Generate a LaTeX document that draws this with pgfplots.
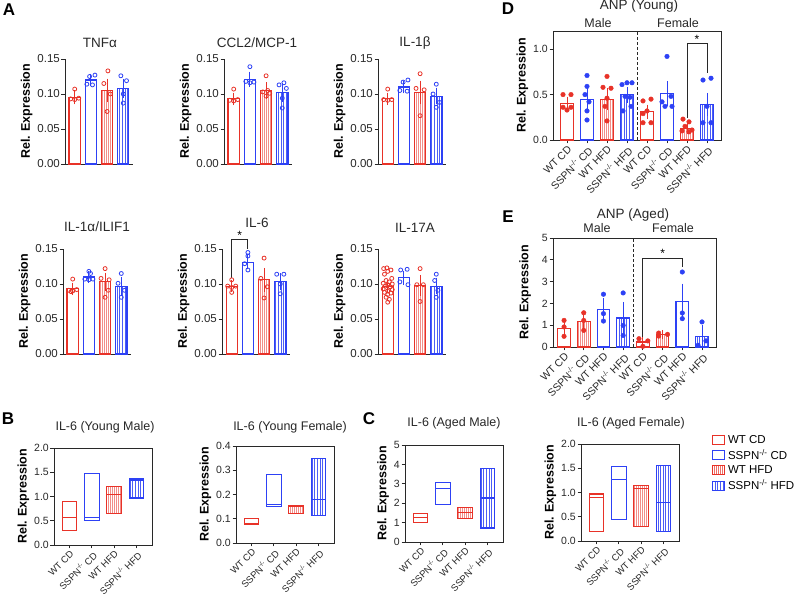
\documentclass[border=0pt]{standalone}
\usepackage{pgfplots}
\pgfplotsset{compat=1.18}
\usepgfplotslibrary{statistics}
\usetikzlibrary{patterns.meta}
\usepackage{fontspec}
\setmainfont{Liberation Sans}
\definecolor{cred}{RGB}{232,50,40}
\definecolor{cblue}{RGB}{45,65,245}
\definecolor{axc}{RGB}{40,40,40}
\newcommand{\ko}{SSPN\textsuperscript{-/-}}
\pgfplotsset{
 base/.style={scale only axis, enlargelimits=false, clip=false,
   tick align=outside, tick pos=left, major tick length=3.5pt,
   axis line style={-, line width=0.9pt, draw=axc},
   every tick/.style={line width=0.9pt, axc},
   tick label style={font=\fontsize{10.5}{12}\selectfont, text=axc},
   yticklabel style={inner sep=1.5pt},
   /pgf/number format/assume math mode=true,
   ylabel={Rel. Expression},
   ylabel style={font=\bfseries\fontsize{12.5}{14}\selectfont, text=black}},
 Astyle/.style={base, width=68pt, height=105pt, axis x line*=bottom, axis y line*=left,
   xmin=-0.6, xmax=3.6, ymin=0, ymax=0.15, ytick={0,0.05,0.1,0.15}, xtick=\empty, bar width=0.7,
   yticklabel style={font=\fontsize{11.5}{12}\selectfont, /pgf/number format/.cd, fixed, fixed zerofill, precision=2}},
 Bstyle/.style={base, width=98pt, height=97pt, xmin=-0.7, xmax=3.7, ymin=0, xtick={0,1,2,3},
   boxplot/draw direction=y,
   xticklabels={WT CD, \ko{} CD, WT HFD, \ko{} HFD},
   xticklabel style={rotate=45, anchor=north east, inner sep=1pt, font=\fontsize{9.5}{10}\selectfont}},
 Dstyle/.style={base, height=109pt, ymin=0, 
   xtick={0,1,2,3,4,5,6,7}, xticklabels={WT CD, \ko{} CD, WT HFD, \ko{} HFD, WT CD, \ko{} CD, WT HFD, \ko{} HFD},
   xticklabel style={rotate=45, anchor=north east, inner sep=1pt, font=\fontsize{10.5}{11}\selectfont}},
 errb/.style={/pgfplots/error bars/y dir=both, /pgfplots/error bars/y explicit,
   /pgfplots/error bars/error bar style={line width=1pt, #1},
   /pgfplots/error bars/error mark options={#1, mark size=3.5pt, line width=1pt}},
 wtcd/.style={ybar, bar shift=0pt, draw=cred, line width=1.1pt, fill=white, errb=cred},
 kocd/.style={ybar, bar shift=0pt, draw=cblue, line width=1.1pt, fill=white, errb=cblue},
 wthfd/.style={ybar, bar shift=0pt, draw=cred, line width=1.1pt, pattern={Lines[angle=90,distance=2pt,line width=0.5pt]}, pattern color=cred!55, errb=cred},
 kohfd/.style={ybar, bar shift=0pt, draw=cblue, line width=1.1pt, pattern={Lines[angle=90,distance=2.6pt,line width=0.6pt]}, pattern color=cblue!85, errb=cblue},
 ptr/.style={only marks, mark=o, mark size=2pt, cred, mark options={line width=0.8pt}},
 ptb/.style={only marks, mark=o, mark size=2pt, cblue, mark options={line width=0.8pt}},
 fpr/.style={only marks, mark=*, mark size=2.3pt, cred},
 fpb/.style={only marks, mark=*, mark size=2.3pt, cblue},
 bwtcd/.style={draw=cred, line width=1.1pt, fill=white},
 bkocd/.style={draw=cblue, line width=1.1pt, fill=white},
 bwthfd/.style={draw=cred, line width=1.1pt, pattern={Lines[angle=90,distance=2pt,line width=0.5pt]}, pattern color=cred!55},
 bkohfd/.style={draw=cblue, line width=1.1pt, pattern={Lines[angle=90,distance=2.6pt,line width=0.6pt]}, pattern color=cblue!85},
}
\begin{document}
\begin{tikzpicture}
\path[use as bounding box] (0pt,0pt) rectangle (800pt,596pt);
%% ---------------- Panel A ----------------
\begin{axis}[Astyle, at={(65pt,432pt)}]
\addplot[wtcd] coordinates {(0,0.095) +- (0,0.005)};
\addplot[kocd] coordinates {(1,0.120) +- (0,0.004)};
\addplot[wthfd] coordinates {(2,0.105) +- (0,0.012)};
\addplot[kohfd] coordinates {(3,0.108) +- (0,0.009)};
\addplot[ptr] coordinates {(0,0.107) (-0.25,0.093) (0,0.092) (0.25,0.094)};
\addplot[ptb] coordinates {(0.75,0.114) (0.92,0.125) (1.1,0.113) (1.25,0.127)};
\addplot[ptr] coordinates {(2.05,0.133) (1.8,0.115) (2.2,0.100) (2.0,0.075)};
\addplot[ptb] coordinates {(2.85,0.126) (3.2,0.119) (3.0,0.100) (3.0,0.087)};
\end{axis}
\begin{axis}[Astyle, at={(224pt,432pt)}]
\addplot[wtcd] coordinates {(0,0.093) +- (0,0.004)};
\addplot[kocd] coordinates {(1,0.121) +- (0,0.006)};
\addplot[wthfd] coordinates {(2,0.105) +- (0,0.007)};
\addplot[kohfd] coordinates {(3,0.102) +- (0,0.008)};
\addplot[ptr] coordinates {(0,0.107) (-0.25,0.091) (0,0.090) (0.25,0.092)};
\addplot[ptb] coordinates {(1,0.139) (0.75,0.118) (1,0.116) (1.25,0.117)};
\addplot[ptr] coordinates {(2,0.126) (1.8,0.103) (2,0.097) (2.22,0.101) (2.1,0.105)};
\addplot[ptb] coordinates {(3.1,0.116) (2.8,0.113) (3.25,0.108) (3,0.094) (3,0.080)};
\end{axis}
\begin{axis}[Astyle, at={(378pt,432pt)}]
\addplot[wtcd] coordinates {(0,0.093) +- (0,0.004)};
\addplot[kocd] coordinates {(1,0.110) +- (0,0.004)};
\addplot[wthfd] coordinates {(2,0.102) +- (0,0.012)};
\addplot[kohfd] coordinates {(3,0.097) +- (0,0.007)};
\addplot[ptr] coordinates {(0,0.107) (-0.25,0.092) (0,0.091) (0.25,0.092)};
\addplot[ptb] coordinates {(1.25,0.120) (0.95,0.117) (0.75,0.105) (1.2,0.104)};
\addplot[ptr] coordinates {(2,0.129) (1.75,0.108) (2.25,0.106) (2,0.069)};
\addplot[ptb] coordinates {(3,0.114) (2.8,0.100) (3.2,0.088) (3,0.081)};
\end{axis}
\begin{axis}[Astyle, at={(63pt,242pt)}]
\addplot[wtcd] coordinates {(0,0.093) +- (0,0.004)};
\addplot[kocd] coordinates {(1,0.110) +- (0,0.003)};
\addplot[wthfd] coordinates {(2,0.103) +- (0,0.008)};
\addplot[kohfd] coordinates {(3,0.097) +- (0,0.008)};
\addplot[ptr] coordinates {(0,0.107) (-0.25,0.091) (0,0.090) (0.25,0.092) (-0.1,0.089)};
\addplot[ptb] coordinates {(1,0.118) (1.1,0.115) (0.75,0.107) (1,0.106) (1.25,0.107)};
\addplot[ptr] coordinates {(2,0.122) (1.75,0.108) (2.25,0.106) (2.2,0.091) (2,0.081)};
\addplot[ptb] coordinates {(3,0.115) (2.8,0.101) (3.2,0.091) (3,0.081)};
\end{axis}
\begin{axis}[Astyle, at={(222pt,242pt)}]
\addplot[wtcd] coordinates {(0,0.097) +- (0,0.003)};
\addplot[kocd] coordinates {(1,0.131) +- (0,0.005)};
\addplot[wthfd] coordinates {(2,0.106) +- (0,0.012)};
\addplot[kohfd] coordinates {(3,0.103) +- (0,0.007)};
\addplot[ptr] coordinates {(0,0.106) (-0.25,0.097) (0.25,0.097) (0,0.095) (0,0.088)};
\addplot[ptb] coordinates {(1,0.145) (1,0.140) (0.8,0.129) (1,0.120)};
\addplot[ptr] coordinates {(2,0.137) (1.8,0.108) (2.2,0.096) (2,0.080)};
\addplot[ptb] coordinates {(2.78,0.114) (3.22,0.114) (3,0.100) (3,0.086)};
\draw[line width=0.9pt, axc] (axis cs:0,0.109) -- (axis cs:0,0.163) -- (axis cs:1,0.163) -- (axis cs:1,0.150);
\node[font=\fontsize{12}{12}\selectfont] at (axis cs:0.5,0.170) {*};
\end{axis}
\begin{axis}[Astyle, at={(378pt,242pt)}]
\addplot[wtcd] coordinates {(0,0.097) +- (0,0.003)};
\addplot[kocd] coordinates {(1,0.109) +- (0,0.005)};
\addplot[wthfd] coordinates {(2,0.098) +- (0,0.010)};
\addplot[kohfd] coordinates {(3,0.097) +- (0,0.007)};
\addplot[ptr] coordinates {(-0.25,0.122) (-0.05,0.123) (0.2,0.120) (0,0.118) (-0.2,0.114) (0.25,0.108) (-0.1,0.105) (0.1,0.103) (-0.28,0.101) (0.28,0.100) (0,0.099) (-0.15,0.097) (0.15,0.096) (-0.28,0.093) (0.28,0.092) (0,0.090) (-0.2,0.088) (0.2,0.087) (0,0.085) (-0.1,0.081) (0.1,0.078) (0,0.074)};
\addplot[ptb] coordinates {(0.8,0.120) (1.2,0.121) (0.75,0.103) (1.25,0.099)};
\addplot[ptr] coordinates {(2,0.122) (1.8,0.099) (2.2,0.099) (2,0.075)};
\addplot[ptb] coordinates {(3,0.114) (2.9,0.105) (3.1,0.091) (3,0.081)};
\end{axis}
%% ---------------- Panel B ----------------
\begin{axis}[Bstyle, at={(54pt,51pt)}, ymax=2, ytick={0,0.5,1,1.5,2},
  yticklabel style={/pgf/number format/.cd, fixed, fixed zerofill, precision=1}]
\addplot[bwtcd, boxplot prepared={draw position=0, lower whisker=0.29, lower quartile=0.29, median=0.56, upper quartile=0.89, upper whisker=0.89, box extend=0.66}] coordinates {};
\addplot[bkocd, boxplot prepared={draw position=1, lower whisker=0.51, lower quartile=0.51, median=0.57, upper quartile=1.47, upper whisker=1.47, box extend=0.66}] coordinates {};
\addplot[bwthfd, boxplot prepared={draw position=2, lower whisker=0.65, lower quartile=0.65, median=1.05, upper quartile=1.20, upper whisker=1.20, box extend=0.66}] coordinates {};
\addplot[bkohfd, boxplot prepared={draw position=3, lower whisker=0.97, lower quartile=0.97, median=1.34, upper quartile=1.36, upper whisker=1.36, box extend=0.66}] coordinates {};
\end{axis}
\begin{axis}[Bstyle, at={(236pt,53pt)}, ymax=0.4, ytick={0,0.1,0.2,0.3,0.4},
  yticklabel style={/pgf/number format/.cd, fixed, fixed zerofill, precision=1}]
\addplot[bwtcd, boxplot prepared={draw position=0, lower whisker=0.077, lower quartile=0.077, median=0.08, upper quartile=0.10, upper whisker=0.10, box extend=0.66}] coordinates {};
\addplot[bkocd, boxplot prepared={draw position=1, lower whisker=0.151, lower quartile=0.151, median=0.16, upper quartile=0.283, upper whisker=0.283, box extend=0.66}] coordinates {};
\addplot[bwthfd, boxplot prepared={draw position=2, lower whisker=0.123, lower quartile=0.123, median=0.15, upper quartile=0.155, upper whisker=0.155, box extend=0.66}] coordinates {};
\addplot[bkohfd, boxplot prepared={draw position=3, lower whisker=0.114, lower quartile=0.114, median=0.18, upper quartile=0.347, upper whisker=0.347, box extend=0.66}] coordinates {};
\end{axis}
%% ---------------- Panel C ----------------
\begin{axis}[Bstyle, at={(405pt,54pt)}, ymax=5, ytick={0,1,2,3,4,5}]
\addplot[bwtcd, boxplot prepared={draw position=0, lower whisker=1.02, lower quartile=1.02, median=1.25, upper quartile=1.45, upper whisker=1.45, box extend=0.66}] coordinates {};
\addplot[bkocd, boxplot prepared={draw position=1, lower whisker=1.91, lower quartile=1.91, median=2.78, upper quartile=3.07, upper whisker=3.07, box extend=0.66}] coordinates {};
\addplot[bwthfd, boxplot prepared={draw position=2, lower whisker=1.19, lower quartile=1.19, median=1.50, upper quartile=1.79, upper whisker=1.79, box extend=0.66}] coordinates {};
\addplot[bkohfd, boxplot prepared={draw position=3, lower whisker=0.72, lower quartile=0.72, median=2.27, upper quartile=3.80, upper whisker=3.80, box extend=0.66}] coordinates {};
\end{axis}
\begin{axis}[Bstyle, at={(581pt,55pt)}, ymax=2, ytick={0,0.5,1,1.5,2},
  yticklabel style={/pgf/number format/.cd, fixed, fixed zerofill, precision=1},
  legend image code/.code={\draw[#1] (0pt,-4.5pt) rectangle (12pt,4.5pt); \path (13.5pt,0pt);},
  legend style={at={(1.33,1.11)}, anchor=north west, draw=none, fill=none, font=\fontsize{11.5}{13}\selectfont, row sep=0.5pt, inner sep=0pt},
  legend cell align=left]
\addplot[bwtcd, forget plot, boxplot prepared={draw position=0, lower whisker=0.20, lower quartile=0.20, median=0.89, upper quartile=0.97, upper whisker=0.97, box extend=0.66}] coordinates {};
\addplot[bkocd, forget plot, boxplot prepared={draw position=1, lower whisker=0.45, lower quartile=0.45, median=1.26, upper quartile=1.54, upper whisker=1.54, box extend=0.66}] coordinates {};
\addplot[bwthfd, forget plot, boxplot prepared={draw position=2, lower whisker=0.29, lower quartile=0.29, median=1.08, upper quartile=1.15, upper whisker=1.15, box extend=0.66}] coordinates {};
\addplot[bkohfd, forget plot, boxplot prepared={draw position=3, lower whisker=0.20, lower quartile=0.20, median=0.79, upper quartile=1.56, upper whisker=1.56, box extend=0.66}] coordinates {};
\addlegendimage{draw=cred, line width=1pt, fill=white}
\addlegendentry{WT CD}
\addlegendimage{draw=cblue, line width=1pt, fill=white}
\addlegendentry{\ko{} CD}
\addlegendimage{draw=cred, line width=1pt, pattern={Lines[angle=90,distance=2pt,line width=0.5pt]}, pattern color=cred!70}
\addlegendentry{WT HFD}
\addlegendimage{draw=cblue, line width=1pt, pattern={Lines[angle=90,distance=2.6pt,line width=0.6pt]}, pattern color=cblue!85}
\addlegendentry{\ko{} HFD}
\end{axis}
%% ---------------- Panel D ----------------
\begin{axis}[Dstyle, at={(553pt,456pt)}, width=168pt, xmin=-0.7, xmax=7.7, ymax=1.2, bar width=0.67,
  ytick={0,0.5,1}, yticklabel style={/pgf/number format/.cd, fixed, fixed zerofill, precision=1}]
\addplot[wtcd] coordinates {(0,0.40) +- (0,0.04)};
\addplot[kocd] coordinates {(1,0.45) +- (0,0.08)};
\addplot[wthfd] coordinates {(2,0.45) +- (0,0.08)};
\addplot[kohfd] coordinates {(3,0.50) +- (0,0.05)};
\addplot[wtcd] coordinates {(4,0.31) +- (0,0.04)};
\addplot[kocd] coordinates {(5,0.51) +- (0,0.10)};
\addplot[wthfd] coordinates {(6,0.13) +- (0,0.03)};
\addplot[kohfd] coordinates {(7,0.39) +- (0,0.09)};
\addplot[fpr] coordinates {(-0.2,0.50) (0.2,0.50) (-0.2,0.36) (0.2,0.36) (0,0.33)};
\addplot[fpb] coordinates {(1,0.71) (1,0.59) (0.9,0.50) (1.1,0.42) (1,0.32) (1,0.22)};
\addplot[fpr] coordinates {(2,0.70) (1.8,0.58) (2.2,0.57) (2,0.46) (1.9,0.37) (2,0.21)};
\addplot[fpb] coordinates {(2.75,0.61) (3,0.63) (3.25,0.63) (2.9,0.48) (3.15,0.47) (3.2,0.37) (2.8,0.32)};
\addplot[fpr] coordinates {(3.8,0.43) (4.2,0.45) (4,0.32) (3.8,0.29) (3.8,0.19) (4.2,0.19)};
\addplot[fpb] coordinates {(5,0.92) (5.2,0.48) (4.75,0.42) (4.9,0.37) (5.25,0.37)};
\addplot[fpr] coordinates {(5.8,0.23) (6.1,0.20) (5.9,0.15) (6.25,0.11) (5.75,0.10) (6.1,0.09)};
\addplot[fpb] coordinates {(6.8,0.66) (7.2,0.68) (7,0.37) (6.8,0.19) (7.2,0.19)};
\draw[densely dashed, line width=0.6pt, axc] (axis cs:3.5,0) -- (axis cs:3.5,1.2);
\draw[line width=0.9pt, axc] (axis cs:6,0.24) -- (axis cs:6,1.066) -- (axis cs:7,1.066) -- (axis cs:7,0.74);
\node[font=\fontsize{12}{12}\selectfont] at (axis cs:6.5,1.11) {*};
\end{axis}
%% ---------------- Panel E ----------------
\begin{axis}[Dstyle, at={(553pt,249pt)}, width=163pt, xmin=-0.56, xmax=7.71, ymax=5, bar width=0.64,
  ytick={0,1,2,3,4,5}, ylabel shift=6pt]
\addplot[wtcd] coordinates {(0,0.86) +- (0,0.21)};
\addplot[wthfd] coordinates {(1,1.17) +- (0,0.23)};
\addplot[kocd] coordinates {(2,1.71) +- (0,0.36)};
\addplot[kohfd] coordinates {(3,1.33) +- (0,0.58)};
\addplot[wtcd] coordinates {(4,0.23) +- (0,0.11)};
\addplot[wthfd] coordinates {(5,0.58) +- (0,0.05)};
\addplot[kocd] coordinates {(6,2.07) +- (0,0.68)};
\addplot[kohfd] coordinates {(7,0.49) +- (0,0.34)};
\addplot[fpr] coordinates {(0,1.22) (0,0.92) (0,0.49)};
\addplot[fpr] coordinates {(1,1.57) (1,1.22) (1,0.76)};
\addplot[fpb] coordinates {(2,2.42) (2,1.53) (2,1.19)};
\addplot[fpb] coordinates {(3,2.48) (3,0.99) (3,0.53)};
\addplot[fpr] coordinates {(3.8,0.38) (4.25,0.28) (4,0.03)};
\addplot[fpr] coordinates {(4.8,0.64) (5.25,0.58) (4.8,0.50)};
\addplot[fpb] coordinates {(6,3.44) (6,1.56) (6,1.30)};
\addplot[fpb] coordinates {(7,1.15) (7.2,0.28) (6.8,0.08)};
\draw[densely dashed, line width=0.6pt, axc] (axis cs:3.5,0) -- (axis cs:3.5,5);
\draw[line width=0.9pt, axc] (axis cs:4,0.46) -- (axis cs:4,4.04) -- (axis cs:6,4.04) -- (axis cs:6,3.67);
\node[font=\fontsize{12}{12}\selectfont] at (axis cs:5,4.3) {*};
\end{axis}
%% ---------------- Titles and letters ----------------
\begin{scope}[every node/.style={font=\fontsize{13.5}{15}\selectfont, text=axc}]
\node at (100pt,553pt) {TNFα};
\node at (257pt,553pt) {CCL2/MCP-1};
\node at (415pt,553pt) {IL-1β};
\node at (97pt,369pt) {IL-1α/ILIF1};
\node at (257pt,373pt) {IL-6};
\node at (415pt,368pt) {IL-17A};
\node at (639pt,590pt) {ANP (Young)};
\node at (633pt,381pt) {ANP (Aged)};
\end{scope}
\begin{scope}[every node/.style={font=\fontsize{12.5}{14}\selectfont, text=axc}]
\node at (105pt,169pt) {IL-6 (Young Male)};
\node at (290pt,169pt) {IL-6 (Young Female)};
\node at (454pt,173pt) {IL-6 (Aged Male)};
\node at (631pt,173pt) {IL-6 (Aged Female)};
\node at (598pt,573pt) {Male};
\node at (678pt,573pt) {Female};
\node at (597pt,368pt) {Male};
\node at (673pt,368pt) {Female};
\end{scope}
\begin{scope}[every node/.style={font=\bfseries\fontsize{17}{18}\selectfont}]
\node at (9pt,586pt) {A};
\node at (8pt,177pt) {B};
\node at (369pt,177pt) {C};
\node at (508pt,587pt) {D};
\node at (508pt,379pt) {E};
\end{scope}
\end{tikzpicture}
\end{document}
